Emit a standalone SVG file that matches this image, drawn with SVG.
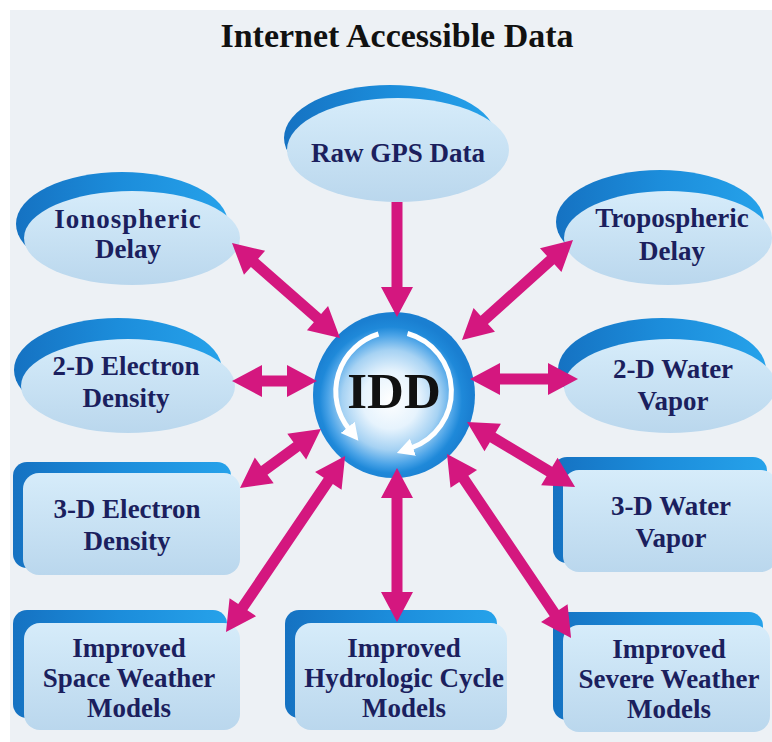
<svg xmlns="http://www.w3.org/2000/svg" width="772" height="742" viewBox="0 0 772 742">
<defs>
<style>
.t{font-family:"Liberation Serif","Times New Roman",serif;font-weight:bold;font-size:27px;fill:#1b1f5e;text-anchor:middle}
.title{font-family:"Liberation Serif","Times New Roman",serif;font-weight:bold;font-size:34px;fill:#111;text-anchor:middle}
.back{fill:url(#gBack)}
.face{fill:url(#gFace)}
.arr{fill:#d4177f}
.warc{fill:none;stroke:#fff;stroke-width:5;marker-end:url(#wh)}
</style>
<linearGradient id="gFace" x1="0" y1="0" x2="0" y2="1">
<stop offset="0" stop-color="#d6ecfa"/>
<stop offset="1" stop-color="#bad7ed"/>
</linearGradient>
<linearGradient id="gBack" x1="0" y1="0" x2="1" y2="0">
<stop offset="0" stop-color="#1572c2"/>
<stop offset="0.5" stop-color="#1c8ddb"/>
<stop offset="1" stop-color="#26a2ea"/>
</linearGradient>
<radialGradient id="gIdd" cx="0.48" cy="0.53" r="0.5">
<stop offset="0" stop-color="#ffffff"/>
<stop offset="0.35" stop-color="#e6f3fd"/>
<stop offset="0.6" stop-color="#a6d2f3"/>
<stop offset="0.78" stop-color="#4aa3e7"/>
<stop offset="0.88" stop-color="#1f89d9"/>
<stop offset="1" stop-color="#1a7fd1"/>
</radialGradient>
<marker id="wh" markerUnits="userSpaceOnUse" markerWidth="22" markerHeight="22" viewBox="0 -11 22 22" refX="2" refY="0" orient="auto">
<path d="M0,-9 L17,0 L0,9 Z" fill="#fff"/>
</marker>
</defs>
<rect x="0" y="0" width="772" height="742" fill="#ffffff"/>
<rect x="10" y="10" width="762" height="732" fill="#edf1f5"/>
<text class="title" x="397" y="47">Internet Accessible Data</text>

<g id="raw-gps">
<ellipse class="back" cx="390" cy="138" rx="106" ry="53"/>
<ellipse class="face" cx="398" cy="150" rx="111" ry="52"/>
<text class="t" x="398" y="162">Raw GPS Data</text>
</g>
<g id="ionospheric">
<ellipse class="back" cx="122" cy="224" rx="106" ry="52"/>
<ellipse class="face" cx="132" cy="238" rx="108" ry="47"/>
<text class="t" x="128" y="228" letter-spacing="1">Ionospheric</text>
<text class="t" x="128" y="258">Delay</text>
</g>
<g id="tropospheric">
<ellipse class="back" cx="660" cy="222" rx="104" ry="52"/>
<ellipse class="face" cx="668" cy="238" rx="104" ry="47"/>
<text class="t" x="672" y="227">Tropospheric</text>
<text class="t" x="672" y="260">Delay</text>
</g>
<g id="e2d">
<ellipse class="back" cx="118" cy="370" rx="104" ry="52"/>
<ellipse class="face" cx="128" cy="386" rx="107" ry="47"/>
<text class="t" x="126" y="375">2-D Electron</text>
<text class="t" x="126" y="407">Density</text>
</g>
<g id="w2d">
<ellipse class="back" cx="662" cy="370" rx="104" ry="52"/>
<ellipse class="face" cx="670" cy="386" rx="106" ry="47"/>
<text class="t" x="673" y="378">2-D Water</text>
<text class="t" x="673" y="410">Vapor</text>
</g>
<g id="e3d">
<rect class="back" x="13" y="462" width="218" height="106" rx="14"/>
<rect class="face" x="23" y="473" width="217" height="102" rx="16"/>
<text class="t" x="127" y="518">3-D Electron</text>
<text class="t" x="127" y="550">Density</text>
</g>
<g id="w3d">
<rect class="back" x="553" y="457" width="214" height="106" rx="14"/>
<rect class="face" x="563" y="470" width="214" height="102" rx="16"/>
<text class="t" x="671" y="515">3-D Water</text>
<text class="t" x="671" y="547">Vapor</text>
</g>
<g id="space">
<rect class="back" x="13" y="610" width="214" height="108" rx="14"/>
<rect class="face" x="24" y="623" width="216" height="107" rx="16"/>
<text class="t" x="129" y="657">Improved</text>
<text class="t" x="129" y="687">Space Weather</text>
<text class="t" x="129" y="717">Models</text>
</g>
<g id="hydro">
<rect class="back" x="285" y="610" width="212" height="108" rx="14"/>
<rect class="face" x="295" y="623" width="212" height="107" rx="16"/>
<text class="t" x="404" y="657">Improved</text>
<text class="t" x="404" y="687">Hydrologic Cycle</text>
<text class="t" x="404" y="717">Models</text>
</g>
<g id="severe">
<rect class="back" x="553" y="612" width="210" height="108" rx="14"/>
<rect class="face" x="563" y="625" width="207" height="107" rx="16"/>
<text class="t" x="669" y="658">Improved</text>
<text class="t" x="669" y="688">Severe Weather</text>
<text class="t" x="669" y="718">Models</text>
</g>
<g id="idd">
<ellipse cx="394" cy="395" rx="81" ry="83" fill="url(#gIdd)"/>
<path class="warc" d="M378.5,334 A60,60 0 0 0 349,429"/>
<path class="warc" d="M407.5,333.5 A60,60 0 0 1 411,448"/>
<text x="394" y="408" font-family="Liberation Serif, Times New Roman, serif" font-weight="bold" font-size="51" fill="#111" text-anchor="middle">IDD</text>
</g>

<g id="connectors">
<path class="arr" transform="translate(397,202) rotate(90)" d="M0,-5.5 L85,-5.5 L85,-16 L115,0 L85,16 L85,5.5 L0,5.5 Z"/>
<path class="arr" transform="translate(232,243) rotate(41.3)" d="M0,0 L30,-16 L30,-5.5 L113.8,-5.5 L113.8,-16 L143.8,0 L113.8,16 L113.8,5.5 L30,5.5 L30,16 Z"/>
<path class="arr" transform="translate(573,240) rotate(138)" d="M0,0 L30,-16 L30,-5.5 L119.4,-5.5 L119.4,-16 L149.4,0 L119.4,16 L119.4,5.5 L30,5.5 L30,16 Z"/>
<path class="arr" transform="translate(232,381)" d="M0,0 L30,-16 L30,-5.5 L55,-5.5 L55,-16 L85,0 L55,16 L55,5.5 L30,5.5 L30,16 Z"/>
<path class="arr" transform="translate(470,379)" d="M0,0 L30,-16 L30,-5.5 L78,-5.5 L78,-16 L108,0 L78,16 L78,5.5 L30,5.5 L30,16 Z"/>
<path class="arr" transform="translate(240,488) rotate(-36.1)" d="M0,0 L30,-16 L30,-5.5 L70.2,-5.5 L70.2,-16 L100.2,0 L70.2,16 L70.2,5.5 L30,5.5 L30,16 Z"/>
<path class="arr" transform="translate(467,422) rotate(31)" d="M0,0 L30,-16 L30,-5.5 L96.1,-5.5 L96.1,-16 L126.1,0 L96.1,16 L96.1,5.5 L30,5.5 L30,16 Z"/>
<path class="arr" transform="translate(226,632) rotate(-55.9)" d="M0,0 L30,-16 L30,-5.5 L182.5,-5.5 L182.5,-16 L212.5,0 L182.5,16 L182.5,5.5 L30,5.5 L30,16 Z"/>
<path class="arr" transform="translate(397,468) rotate(90)" d="M0,0 L30,-16 L30,-5.5 L124,-5.5 L124,-16 L154,0 L124,16 L124,5.5 L30,5.5 L30,16 Z"/>
<path class="arr" transform="translate(447,454) rotate(56)" d="M0,0 L30,-16 L30,-5.5 L191.9,-5.5 L191.9,-16 L221.9,0 L191.9,16 L191.9,5.5 L30,5.5 L30,16 Z"/>
</g>
</svg>
